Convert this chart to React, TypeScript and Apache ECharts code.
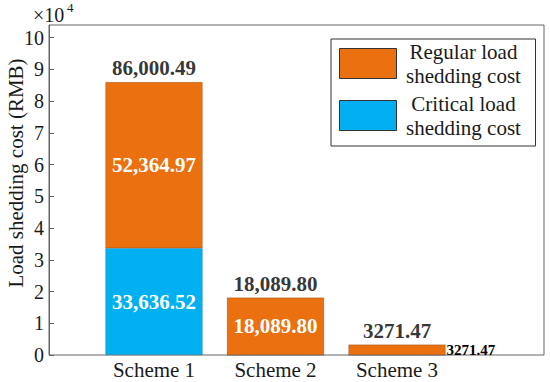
import React, { useEffect, useRef } from 'react';
import * as echarts from 'echarts';

// ---- data ----
const categories = ['Scheme 1', 'Scheme 2', 'Scheme 3'];
const criticalCost = [33636.52, 0, 0];
const regularCost = [52364.97, 18089.8, 3271.47];
const totalCost = [86000.49, 18089.8, 3271.47];
const yTickValues = [0, 1, 2, 3, 4, 5, 6, 7, 8, 9, 10];
const regularName = 'Regular load\nshedding cost';
const criticalName = 'Critical load\nshedding cost';
const SCALE = 1e4;
const Y_MAX = 10.4;

const FONT = 'Liberation Serif';
const ORANGE = '#EA7010';
const BLUE = '#00B0F0';
const FRAME = '#666666';

function fmt(v: number): string {
  const s = v.toFixed(2);
  if (v < 10000) return s;
  const [i, d] = s.split('.');
  return i.replace(/\B(?=(\d{3})+(?!\d))/g, ',') + '.' + d;
}

function buildOption(): any {
  const insideLabel = {
    show: true,
    position: 'inside',
    color: '#ffffff',
    fontFamily: FONT,
    fontWeight: 'bold',
    fontSize: 21,
  };
  return {
    animation: false,
    backgroundColor: '#ffffff',
    textStyle: { fontFamily: FONT },
    grid: [
      { left: 49, right: 6, top: 25, bottom: 27, show: true, borderColor: FRAME, borderWidth: 1, backgroundColor: 'transparent' },
      { left: 93.25, right: 92.25, top: 25, bottom: 27 },
    ],
    xAxis: [
      { type: 'value', gridIndex: 0, show: false, min: 0, max: 1 },
      {
        type: 'category',
        gridIndex: 1,
        data: categories,
        axisLine: { show: false },
        axisTick: { show: false },
        axisLabel: { color: '#1a1a1a', fontFamily: FONT, fontSize: 21, margin: 4 },
      },
    ],
    yAxis: [
      {
        type: 'value',
        gridIndex: 0,
        min: 0,
        max: Y_MAX,
        splitLine: { show: false },
        axisLine: { show: true, lineStyle: { color: FRAME, width: 1 } },
        axisTick: { show: true, inside: true, length: 5, lineStyle: { color: FRAME }, customValues: yTickValues },
        axisLabel: {
          color: '#1a1a1a',
          fontFamily: FONT,
          fontSize: 20,
          margin: 5,
          customValues: yTickValues,
          formatter: (v: number) => String(v),
        },
      },
      { type: 'value', gridIndex: 1, show: false, min: 0, max: Y_MAX },
    ],
    legend: {
      orient: 'vertical',
      left: 331,
      top: 39,
      data: [regularName, criticalName],
      icon: 'rect',
      itemWidth: 57,
      itemHeight: 30,
      itemGap: 7,
      padding: [2, 10, 8, 8],
      borderColor: '#333333',
      borderWidth: 1,
      itemStyle: { borderColor: '#333333', borderWidth: 1 },
      formatter: (name: string) =>
        name
          .split('\n')
          .map((l) => `{t|${l}}`)
          .join('\n'),
      textStyle: {
        fontFamily: FONT,
        fontSize: 21,
        color: '#1a1a1a',
        rich: {
          t: { width: 124, align: 'center', fontFamily: FONT, fontSize: 21, lineHeight: 24, color: '#1a1a1a' },
        },
      },
    },
    graphic: [
      {
        type: 'text',
        x: 16,
        y: 173,
        rotation: Math.PI / 2,
        style: {
          text: 'Load shedding cost (RMB)',
          fontFamily: FONT,
          fontSize: 21,
          fill: '#1a1a1a',
          align: 'center',
          verticalAlign: 'middle',
        },
      },
      {
        type: 'text',
        x: 33,
        y: 15,
        style: { text: '×10', fontFamily: FONT, fontSize: 20, fill: '#1a1a1a', align: 'left', verticalAlign: 'middle' },
      },
      {
        type: 'text',
        x: 67,
        y: 7,
        style: { text: '4', fontFamily: FONT, fontSize: 13, fill: '#1a1a1a', align: 'left', verticalAlign: 'middle' },
      },
    ],
    series: [
      {
        name: criticalName,
        type: 'bar',
        xAxisIndex: 1,
        yAxisIndex: 1,
        stack: 'cost',
        barWidth: '80%',
        itemStyle: { color: BLUE, borderColor: 'rgba(0,0,0,0.35)', borderWidth: 0.5 },
        label: {
          ...insideLabel,
          formatter: (p: any) => (criticalCost[p.dataIndex] > 0 ? fmt(criticalCost[p.dataIndex]) : ''),
        },
        data: criticalCost.map((v) => v / SCALE),
      },
      {
        name: regularName,
        type: 'bar',
        xAxisIndex: 1,
        yAxisIndex: 1,
        stack: 'cost',
        barWidth: '80%',
        itemStyle: { color: ORANGE, borderColor: 'rgba(0,0,0,0.35)', borderWidth: 0.5 },
        label: {
          ...insideLabel,
          formatter: (p: any) => fmt(regularCost[p.dataIndex]),
        },
        data: regularCost.map((v) =>
          v / SCALE < 1
            ? {
                value: v / SCALE,
                label: { position: 'right', distance: 1, color: '#000000', fontSize: 15, fontWeight: 'bold' },
              }
            : v / SCALE
        ),
      },
      {
        name: 'Total',
        type: 'scatter',
        xAxisIndex: 1,
        yAxisIndex: 1,
        symbolSize: 1,
        itemStyle: { color: 'rgba(0,0,0,0)' },
        label: {
          show: true,
          position: 'top',
          distance: 3,
          color: '#000000',
          fontFamily: FONT,
          fontWeight: 'bold',
          fontSize: 21,
          formatter: (p: any) => fmt(totalCost[p.dataIndex]),
        },
        data: totalCost.map((v) => v / SCALE),
      },
    ],
  };
}

export default function App() {
  const ref = useRef<HTMLDivElement>(null);
  useEffect(() => {
    if (!ref.current) return;
    const chart = echarts.init(ref.current, null, { renderer: 'svg' });
    chart.setOption(buildOption());
    return () => chart.dispose();
  }, []);
  return (
    <div
      ref={ref}
      style={{ position: 'fixed', left: 0, top: 0, width: 550, height: 382, background: '#ffffff' }}
    />
  );
}
